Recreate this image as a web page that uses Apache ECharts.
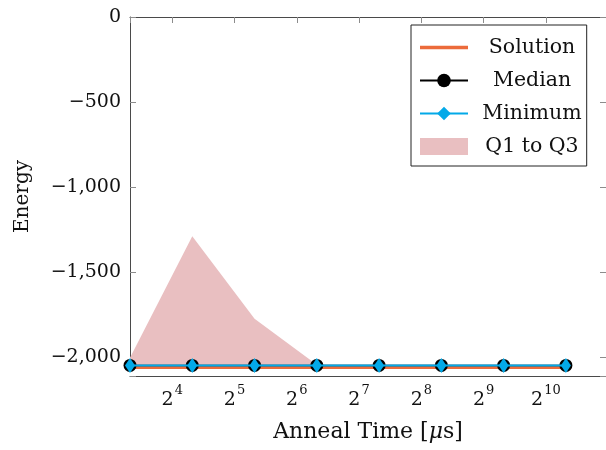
<!DOCTYPE html>
<html>
<head>
<meta charset="utf-8">
<title>Energy vs anneal time</title>
<script src="https://cdn.jsdelivr.net/npm/echarts@6/dist/echarts.min.js"></script>
<style>
  html, body { margin: 0; padding: 0; width: 100%; height: 100%; background: #fff; }
  #main { width: 606px; height: 450px; }
</style>
</head>
<body>
<div id="main"></div>
<script>
// anneal times in microseconds
var annealTimes = [10, 20, 40, 80, 160, 320, 640, 1280];
var solution = [-2062, -2062, -2062, -2062, -2062, -2062, -2062, -2062];
var median   = [-2050, -2050, -2050, -2050, -2050, -2050, -2050, -2050];
var minimum  = [-2050, -2050, -2050, -2050, -2050, -2050, -2050, -2050];
var q1       = [-2050, -2050, -2050, -2050, -2050, -2050, -2050, -2050];
var q3       = [-2005, -1290, -1775, -2046, -2046, -2046, -2046, -2046];
var yTicks   = [-2000, -1500, -1000, -500, 0];

var FONT = 'DejaVu Serif';
var AXIS = '#4a4a4a';
var TICK = '#8c8c8c';
var BAND = '#e9bfc1';

function pairs(ys) {
  return annealTimes.map(function (x, i) { return [x, ys[i]]; });
}

function pow2Label(v) {
  var e = Math.log2(v);
  if (Math.abs(e - Math.round(e)) > 1e-6) return '';
  return '{b|2}{s|' + Math.round(e) + '}';
}
function yLabel(v) {
  if (yTicks.indexOf(Math.round(v)) < 0) return '';
  var s = Math.abs(v).toLocaleString('en-US');
  return v < 0 ? '\u2212' + s : s;
}

var myChart = echarts.init(document.getElementById('main'));

var xBase = {
  type: 'log',
  logBase: 2,
  min: 10,
  max: 2000,
  axisLine: { onZero: false, lineStyle: { color: AXIS, width: 1 } },
  axisTick: { inside: true, length: 6, lineStyle: { color: TICK } },
  minorTick: { show: false },
  splitLine: { show: false }
};
var yBase = {
  type: 'value',
  min: -2112,
  max: 0,
  axisLine: { show: true, onZero: false, lineStyle: { color: AXIS, width: 1 } },
  axisTick: { show: true, inside: true, length: 6, lineStyle: { color: TICK } },
  splitLine: { show: false }
};

myChart.setOption({
  animation: false,
  backgroundColor: '#fff',
  textStyle: { fontFamily: FONT },
  grid: { left: 130, top: 17, right: -4, bottom: 74 },
  legend: {
    orient: 'vertical',
    left: 411,
    top: 25,
    padding: [12, 5, 9, 8],
    itemGap: 12,
    itemWidth: 48,
    itemHeight: 17,
    borderColor: '#222',
    borderWidth: 1,
    backgroundColor: '#fff',
    formatter: function (name) { return '{c|' + name + '}'; },
    textStyle: {
      fontFamily: FONT, fontSize: 20.5, color: '#111',
      rich: { c: { fontFamily: FONT, fontSize: 20.5, color: '#111', width: 118, align: 'center' } }
    },
    data: [
      { name: 'Solution', icon: 'path://M0,0L48,0L48,3.4L0,3.4Z' },
      { name: 'Median' },
      { name: 'Minimum' },
      { name: 'Q1 to Q3', icon: 'rect', itemStyle: { color: BAND } }
    ]
  },
  xAxis: [
    Object.assign({}, xBase, {
      position: 'bottom',
      name: 'Anneal Time [{i|\u03bc}s]',
      nameLocation: 'middle',
      nameGap: 45,
      nameTextStyle: {
        fontFamily: FONT, fontSize: 22, color: '#111',
        rich: { i: { fontFamily: FONT, fontSize: 22, fontStyle: 'italic', color: '#111' } }
      },
      axisLabel: {
        formatter: pow2Label,
        margin: 8,
        showMinLabel: false,
        showMaxLabel: false,
        rich: {
          b: { fontFamily: FONT, fontSize: 19, color: '#111', padding: [7, 0, 0, 0] },
          s: { fontFamily: FONT, fontSize: 13, color: '#111', verticalAlign: 'top', padding: [0, 0, 8, 1] }
        }
      }
    }),
    Object.assign({}, xBase, {
      position: 'top',
      axisLabel: { show: false }
    })
  ],
  yAxis: [
    Object.assign({}, yBase, {
      position: 'left',
      name: 'Energy',
      nameLocation: 'middle',
      nameGap: 97,
      nameTextStyle: { fontFamily: FONT, fontSize: 20, color: '#111' },
      axisLabel: { formatter: yLabel, fontFamily: FONT, fontSize: 19, color: '#111', margin: 9 }
    }),
    Object.assign({}, yBase, {
      position: 'right',
      axisLabel: { show: false }
    })
  ],
  series: [
    {
      // upper edge of the band, filled down to the axis
      name: 'Q1 to Q3',
      type: 'line',
      data: pairs(q3),
      symbol: 'none',
      itemStyle: { color: BAND },
      lineStyle: { width: 0, opacity: 0 },
      areaStyle: { color: BAND, opacity: 1, origin: 'start' },
      silent: true,
      z: 1
    },
    {
      // lower edge of the band, blanks out what lies below Q1
      name: 'Q1',
      type: 'line',
      data: pairs(q1),
      symbol: 'none',
      itemStyle: { color: '#fff' },
      lineStyle: { width: 0, opacity: 0 },
      areaStyle: { color: '#fff', opacity: 1, origin: 'start' },
      silent: true,
      z: 1
    },
    {
      name: 'Solution',
      type: 'line',
      data: pairs(solution),
      symbol: 'none',
      itemStyle: { color: '#ec6b3b' },
      lineStyle: { color: '#ec6b3b', width: 3 },
      z: 2
    },
    {
      name: 'Median',
      type: 'line',
      data: pairs(median),
      symbol: 'circle',
      symbolSize: 13,
      itemStyle: { color: '#000' },
      lineStyle: { color: '#000', width: 1.5 },
      z: 3
    },
    {
      name: 'Minimum',
      type: 'line',
      data: pairs(minimum),
      symbol: 'diamond',
      symbolSize: [10, 15],
      itemStyle: { color: '#03a9e8' },
      lineStyle: { color: '#03a9e8', width: 2 },
      z: 4
    }
  ]
});

window.addEventListener('resize', function () {
  myChart.resize();
});
</script>
</body>
</html>
